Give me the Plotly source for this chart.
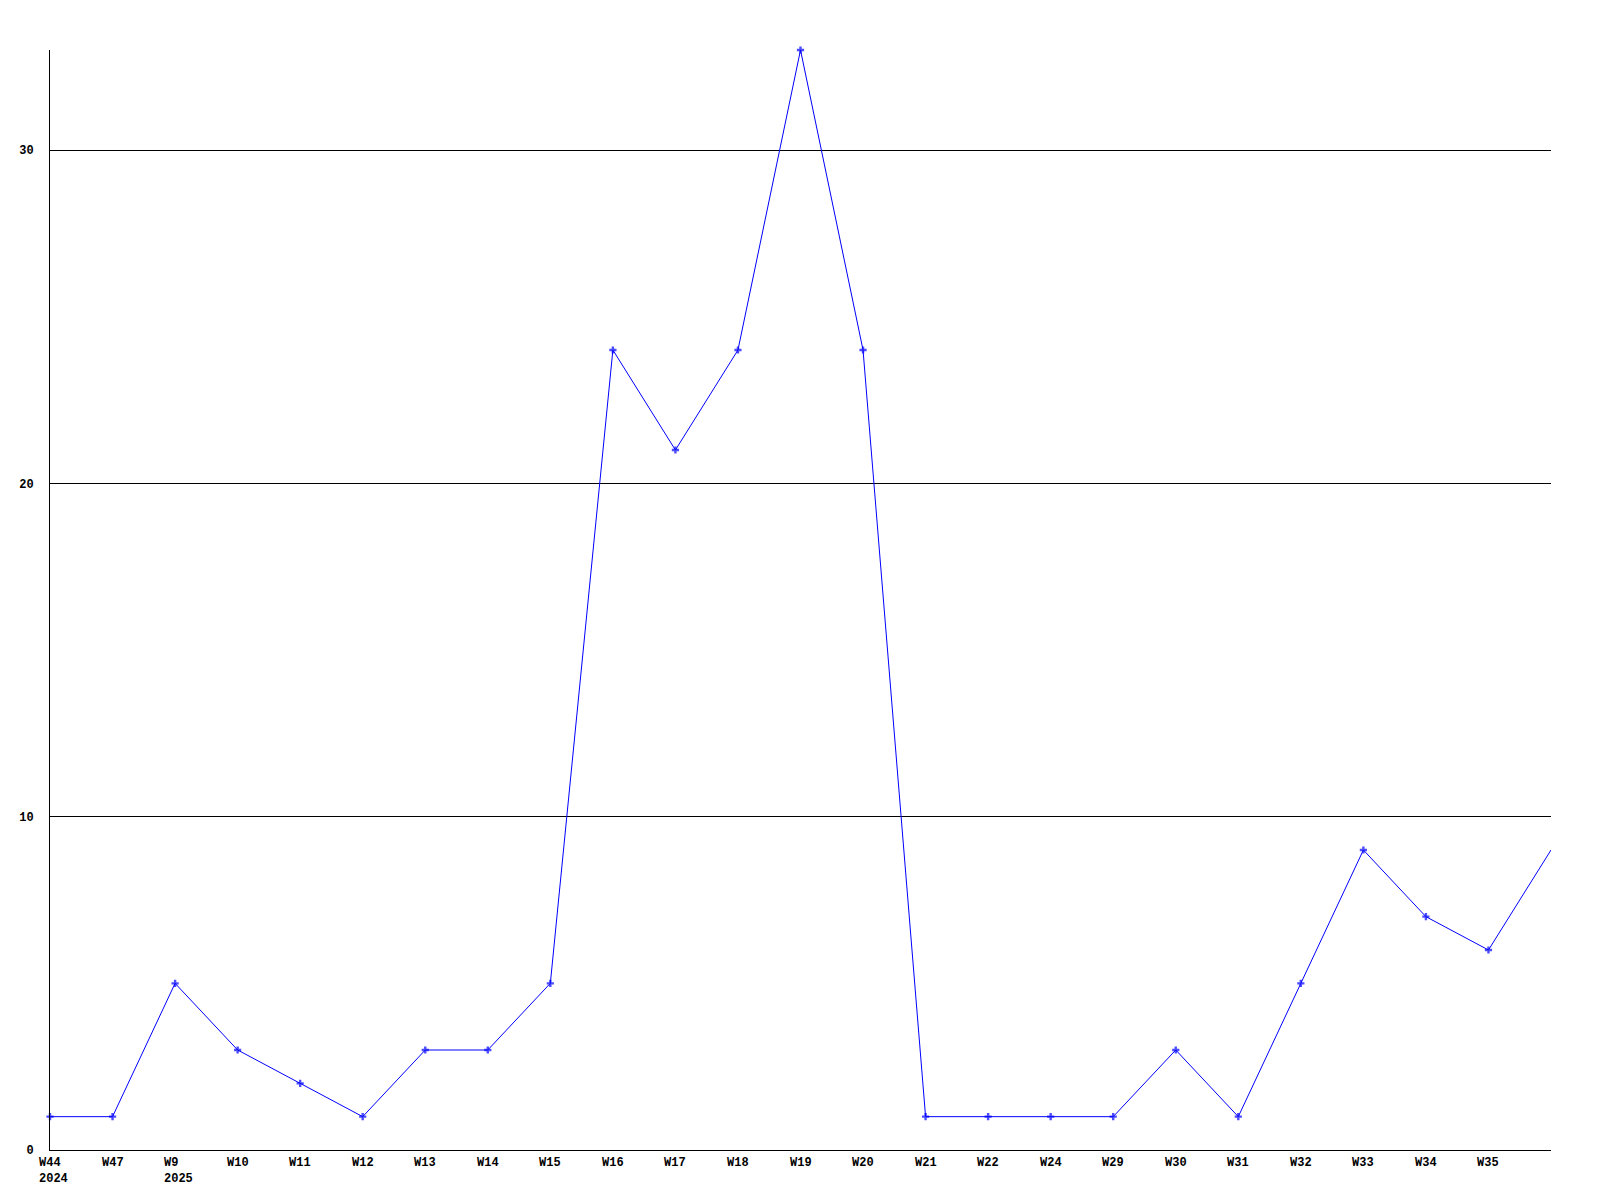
import plotly.graph_objects as go

week_labels = ["W44<br>2024", "W47", "W9<br>2025", "W10", "W11", "W12", "W13", "W14", "W15",
               "W16", "W17", "W18", "W19", "W20", "W21", "W22", "W24", "W29", "W30",
               "W31", "W32", "W33", "W34", "W35", ""]
values = [1, 1, 5, 3, 2, 1, 3, 3, 5, 24, 21, 24, 33, 24, 1, 1, 1, 1, 3, 1, 5, 9, 7, 6, 9]
y_ticks = [0, 10, 20, 30]

x_pos = list(range(len(values)))
marker_sizes = [6] * (len(values) - 1) + [0]

font = dict(family="Liberation Mono, DejaVu Sans Mono, monospace", size=12, color="black", weight="bold")

fig = go.Figure()
fig.add_trace(go.Scatter(
    x=x_pos, y=values, mode="lines+markers",
    line=dict(color="#0000ff", width=1),
    marker=dict(symbol="cross", size=marker_sizes, color="#0000ff", line=dict(width=0)),
    cliponaxis=False, showlegend=False, hoverinfo="skip",
))

# x tick labels, left-aligned just before each point
for xp, lab in zip(x_pos, week_labels):
    if lab:
        fig.add_annotation(
            x=xp, y=0, xref="x", yref="paper", text=lab, showarrow=False,
            xanchor="left", yanchor="top", align="left",
            xshift=-12, yshift=-5, font=font, borderpad=0,
        )

fig.update_layout(
    width=1600, height=1200,
    margin=dict(l=42, r=57, t=42, b=58),
    paper_bgcolor="white", plot_bgcolor="white",
    font=font,
)
fig.update_xaxes(
    range=[0, len(values) - 1],
    showticklabels=False,
    showgrid=False, zeroline=False,
    showline=True, linecolor="black", linewidth=1,
    ticks="", automargin=False,
)
fig.update_yaxes(
    range=[0, 33],
    tickmode="array", tickvals=y_ticks, ticktext=[str(v) for v in y_ticks],
    showgrid=True, gridcolor="black", gridwidth=1,
    zeroline=False,
    showline=True, linecolor="black", linewidth=1,
    ticks="", tickfont=font, ticklabelstandoff=13, automargin=False,
)

fig.write_html("out.html")
